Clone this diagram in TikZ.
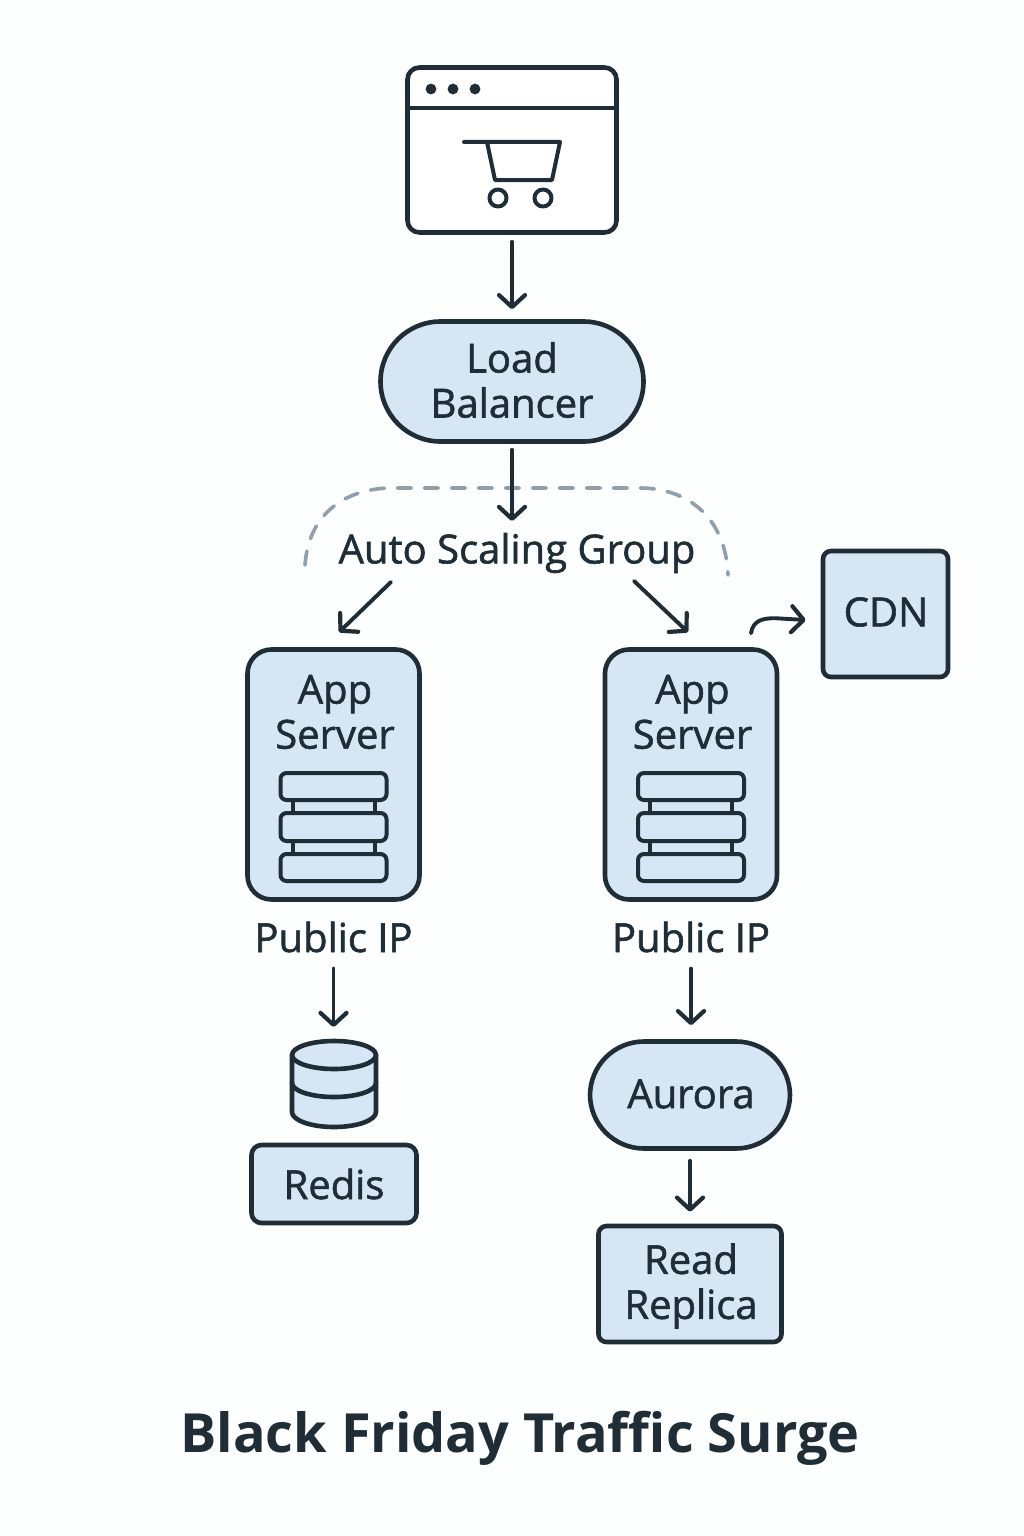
\documentclass[tikz,border=0pt]{standalone}
\usepackage{fontspec}
\setmainfont{Open Sans}
\newfontfamily\lblfont{Open Sans}[FakeBold=1.4]
\usetikzlibrary{arrows.meta}
\definecolor{ink}{HTML}{1F2D37}
\definecolor{pale}{HTML}{D6E6F4}
\definecolor{dashc}{HTML}{8F9FAB}
\definecolor{paper}{HTML}{FDFEFE}
\tikzset{
  x=1pt,y=-1pt,
  line/.style={draw=ink,line width=4.6pt,line join=round,line cap=round},
  arr/.style={draw=ink,line width=3.9pt,line cap=round,line join=round,
    -{Straight Barb[length=12pt,width=26pt,line width=4.2pt,round]}},
  boxed/.style={line,fill=pale,inner sep=0pt,rectangle},
  lbl/.style={text=ink,font=\lblfont\fontsize{40}{45}\selectfont,align=center,inner sep=0pt},
  bar/.style={line,fill=pale,rounded corners=6pt,line width=4pt},
}
\begin{document}
\begin{tikzpicture}
\useasboundingbox[fill=paper] (0,0) rectangle (1024,1536);
% browser
\node[line,rectangle,fill=white,rounded corners=12pt,minimum width=209pt,minimum height=165pt,inner sep=0pt] (browser) at (512,150) {};
\draw[line,line width=3.8pt,line cap=butt] (browser.west |- 0,108) -- (browser.east |- 0,108);
\foreach \xx in {431,453,475} \fill[ink] (\xx,89) circle (5.4pt);
\draw[line,line width=4pt] (464,142) -- (560,142) -- (552,180) -- (495,180) -- (487,142);
\draw[line,line width=4pt] (498,198) circle (8.5pt) (543,198) circle (8.5pt);
% load balancer
\node[boxed,rounded corners=60pt,minimum width=263pt,minimum height=120pt] (lb) at (512,381.5) {};
\node[lbl] (lbt) at (512,380) {Load\\Balancer};
% auto scaling
\draw[draw=dashc,line width=3.6pt,dash pattern=on 14pt off 13pt,line cap=round] (305,565) .. controls (309,510) and (350,488) .. (392,488) -- (640,488) .. controls (690,488) and (726,520) .. (728,575);
\node[lbl] (asg) at (517,553) {Auto Scaling Group};
% app servers
\foreach \nm/\cx in {appL/333.5,appR/691} {
  \node[boxed,rounded corners=24pt,minimum width=172pt,minimum height=250pt] (\nm) at (\cx,774.5) {};
  \node[lbl] (\nm t) at (\cx+1.5,712) {App\\Server};
  \begin{scope}[shift={(\cx,0)}]
    \draw[line,line width=4pt] (-41,800) -- (-41,854) (41,800) -- (41,854);
    \draw[bar] (-53,773) rectangle (53,800);
    \draw[bar] (-53,813) rectangle (53,841);
    \draw[bar] (-53,854) rectangle (53,881);
  \end{scope}
  \node[lbl] (\nm ip) at (\cx,937) {Public IP};
}
% CDN
\node[boxed,rounded corners=8pt,minimum width=125pt,minimum height=126pt] (cdn) at (885.5,614) {};
\node[lbl] (cdnt) at (886,612) {CDN};
% redis cylinder
\draw[line,fill=pale] (292,1055) -- (292,1112) arc[start angle=180,end angle=360,x radius=42,y radius=-15] -- (376,1055) arc[start angle=0,end angle=180,x radius=42,y radius=-14] -- cycle;
\draw[line] (292,1055) arc[start angle=180,end angle=360,x radius=42,y radius=-14];
\draw[line] (292,1083) arc[start angle=180,end angle=360,x radius=42,y radius=-14];
\node[boxed,rounded corners=10pt,minimum width=165pt,minimum height=78pt] (redis) at (334,1184) {};
\node[lbl] (redist) at (334,1184) {Redis};
% aurora
\node[boxed,rounded corners=54pt,minimum width=200pt,minimum height=107pt] (aurora) at (690,1095) {};
\node[lbl] (aurorat) at (691,1094) {Aurora};
% read replica
\node[boxed,rounded corners=8pt,minimum width=183pt,minimum height=116pt] (rr) at (690,1284) {};
\node[lbl] (rrt) at (691,1286) {Read\\Replica};
% title
\node[text=ink,font=\fontsize{54}{60}\selectfont\bfseries,inner sep=0pt] (title) at (520,1438) {Black Friday Traffic Surge};
% connectors
\draw[arr,shorten <=7pt,shorten >=10pt] (browser.south) -- (lb.north);
\draw[arr,shorten <=6pt] (lb.south) -- (lb.south |- 0,521);
\draw[arr] ([xshift=-126pt,yshift=-29pt]asg.center) -- ([xshift=5.5pt,yshift=15pt]appL.north);
\draw[arr] ([xshift=117pt,yshift=-28pt]asg.center) -- ([xshift=-3pt,yshift=15pt]appR.north);
\draw[arr] ([xshift=60pt,yshift=14pt]appR.north) .. controls ([xshift=62pt,yshift=27pt]appR.north) and ([xshift=72pt,yshift=29pt]appR.north) .. ([xshift=84pt,yshift=29pt]appR.north) -- ([xshift=-15pt,yshift=-6pt]cdn.west);
\draw[arr,shorten <=16pt] (appLip.south) -- (appLip.south |- 0,1027);
\draw[arr,shorten <=16pt,shorten >=14pt] (appRip.south) -- (appRip.south |- aurora.north);
\draw[arr,shorten <=10pt,shorten >=12pt] (aurora.south) -- (rr.north);
\end{tikzpicture}
\end{document}
